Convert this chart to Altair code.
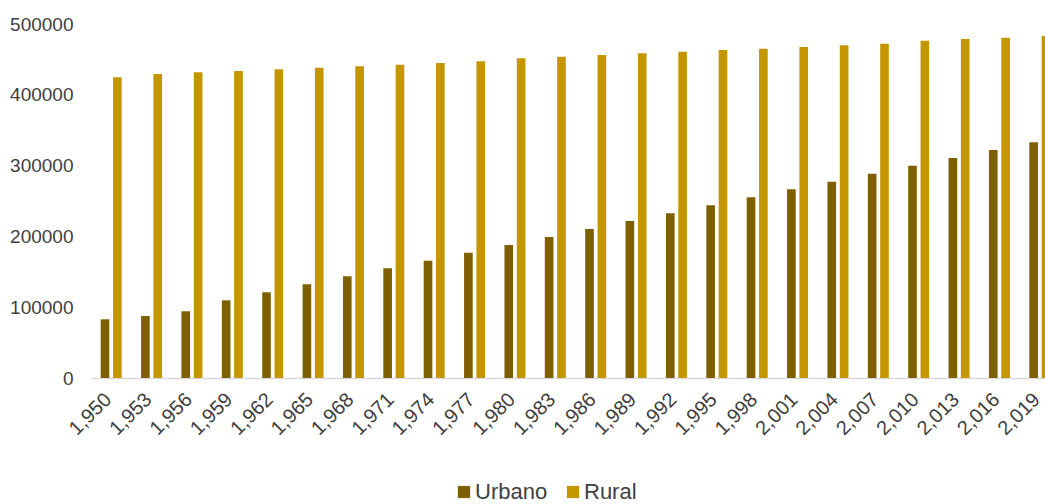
import altair as alt
import pandas as pd

years = [1950, 1953, 1956, 1959, 1962, 1965, 1968, 1971, 1974, 1977, 1980, 1983,
         1986, 1989, 1992, 1995, 1998, 2001, 2004, 2007, 2010, 2013, 2016, 2019]

urbano = [82900, 87600, 94200, 109700, 121000, 132300, 143600, 154900, 165700,
          177000, 187900, 199100, 210400, 221700, 232600, 243900, 255200, 266500,
          277300, 288600, 299900, 310700, 322000, 332900]

rural = [424700, 429400, 431800, 433600, 436000, 438300, 440200, 442500, 444900,
         447300, 451500, 453800, 456200, 458600, 460900, 463300, 465100, 467500,
         469900, 472200, 476400, 478800, 480700, 483000]

series = ["Urbano", "Rural"]
colors = ["#7F6000", "#C49600"]

rows = []
for y, u, r in zip(years, urbano, rural):
    rows.append({"year": y, "serie": "Urbano", "valor": u})
    rows.append({"year": y, "serie": "Rural", "valor": r})
df = pd.DataFrame(rows)

font = "Liberation Sans"
text_color = "#404040"

chart = (
    alt.Chart(df)
    .mark_bar()
    .encode(
        x=alt.X(
            "year:O",
            title=None,
            scale=alt.Scale(range=[0, 969], paddingInner=0.48, paddingOuter=0.24),
            axis=alt.Axis(
                labelExpr="format(datum.value, ',')",
                labelAngle=-45,
                labelFontSize=20,
                labelFont=font,
                labelColor=text_color,
                labelPadding=11,
                labelOffset=-10,
                ticks=False,
                domainColor="#D9D9D9",
                domainWidth=1.5,
                grid=False,
            ),
        ),
        xOffset=alt.XOffset("serie:N", sort=series, scale=alt.Scale(paddingInner=0.3)),
        y=alt.Y(
            "valor:Q",
            title=None,
            scale=alt.Scale(domain=[0, 500000], nice=False),
            axis=alt.Axis(
                values=[0, 100000, 200000, 300000, 400000, 500000],
                format="d",
                labelFontSize=19,
                labelFont=font,
                labelColor=text_color,
                labelPadding=18,
                ticks=False,
                domain=False,
                grid=False,
            ),
        ),
        color=alt.Color(
            "serie:N",
            sort=series,
            scale=alt.Scale(domain=series, range=colors),
            legend=alt.Legend(
                title=None,
                orient="none",
                direction="horizontal",
                legendX=362,
                legendY=457,
                symbolType="square",
                symbolSize=150,
                symbolStrokeWidth=0,
                labelFontSize=22,
                labelFont=font,
                labelColor=text_color,
                labelOffset=0,
                columnPadding=14,
            ),
        ),
    )
    .properties(
        width=954,
        height=354,
        background="white",
        autosize=alt.AutoSizeParams(type="none"),
        padding={"left": 91, "top": 24, "right": 0, "bottom": 126},
    )
    .configure_view(stroke="transparent", strokeWidth=0)
    .configure_axis(grid=False)
)

chart.save("out.html", embed_options={"renderer": "svg", "actions": False})
